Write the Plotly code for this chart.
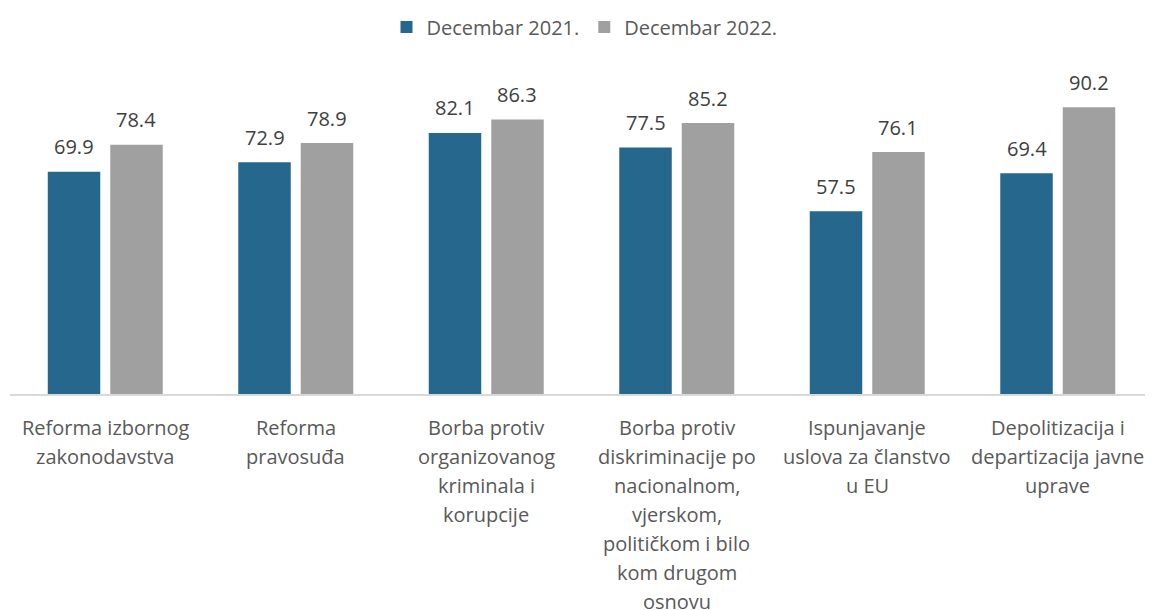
import plotly.graph_objects as go

categories = [
    "Reforma izbornog<br>zakonodavstva",
    "Reforma<br>pravosuđa",
    "Borba protiv<br>organizovanog<br>kriminala i<br>korupcije",
    "Borba protiv<br>diskriminacije po<br>nacionalnom,<br>vjerskom,<br>političkom i bilo<br>kom drugom<br>osnovu",
    "Ispunjavanje<br>uslova za članstvo<br>u EU",
    "Depolitizacija i<br>departizacija javne<br>uprave",
]
series_names = ["Decembar 2021.", "Decembar 2022."]
values_2021 = [69.9, 72.9, 82.1, 77.5, 57.5, 69.4]
values_2022 = [78.4, 78.9, 86.3, 85.2, 76.1, 90.2]

FONT = "Open Sans"
x_idx = list(range(len(categories)))

fig = go.Figure()
fig.add_trace(go.Bar(x=x_idx, y=values_2021, name=series_names[0],
                     marker=dict(color="#25678d", line=dict(width=0))))
fig.add_trace(go.Bar(x=x_idx, y=values_2022, name=series_names[1],
                     marker=dict(color="#a0a0a0", line=dict(width=0))))

annotations = []
# value labels
for vals, shift in ((values_2021, -31), (values_2022, 31)):
    for i, v in enumerate(vals):
        annotations.append(dict(
            x=i, y=v, xref="x", yref="y", text=f"{v:.1f}", showarrow=False,
            xshift=shift, yshift=25, yanchor="middle",
            font=dict(family=FONT, size=20, color="#404040")))
# category labels, line by line
for i, cat in enumerate(categories):
    for j, line in enumerate(cat.split("<br>")):
        annotations.append(dict(
            x=i, y=0, xref="x", yref="paper", text=line, showarrow=False,
            yanchor="middle", yshift=-(33 + 29 * j),
            font=dict(family=FONT, size=20, color="#595959")))

fig.update_layout(
    width=1153, height=610,
    margin=dict(l=2, r=8, t=68, b=224, autoexpand=False),
    paper_bgcolor="white", plot_bgcolor="white",
    barmode="group", bargap=0.344, bargroupgap=0.16,
    font=dict(family=FONT, size=20, color="#595959"),
    legend=dict(orientation="h", xref="container", yref="container",
                x=0.5, xanchor="center", y=1 - 19 / 610, yanchor="middle",
                font=dict(family=FONT, size=20, color="#595959"),
                itemwidth=30, tracegroupgap=0),
    xaxis=dict(range=[-0.5, len(categories) - 0.5], showticklabels=False,
               showline=True, linecolor="#d9d9d9", linewidth=2,
               showgrid=False, zeroline=False, ticks=""),
    yaxis=dict(range=[0, 100], visible=False, showgrid=False, zeroline=False),
    annotations=annotations,
)

fig.write_html("out.html")
